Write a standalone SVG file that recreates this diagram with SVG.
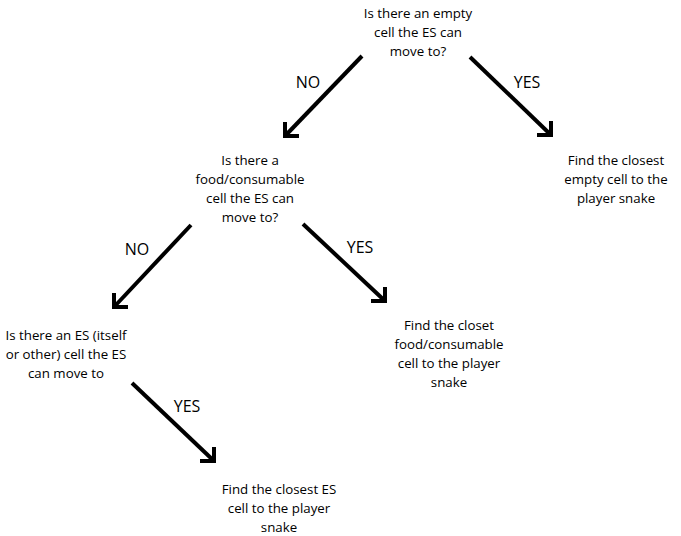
<svg xmlns="http://www.w3.org/2000/svg" width="681" height="536" viewBox="0 0 681 536">
<style>
text{font-family:"Open Sans","Liberation Sans",sans-serif;fill:#000}
.t{font-size:13.3px;text-anchor:middle}
.l{font-size:16px;text-anchor:middle}
.c line,.c polyline{stroke:#000;stroke-width:4;fill:none;stroke-linecap:butt;stroke-linejoin:miter}
</style>
<rect width="681" height="536" fill="#fff"/>
<g id="q1" class="t"><text class="t" x="418" y="18">Is there an empty</text><text class="t" x="418" y="37">cell the ES can</text><text class="t" x="418" y="56">move to?</text></g>
<g id="a1" ><text class="t" x="616" y="165">Find the closest</text><text class="t" x="616" y="184">empty cell to the</text><text class="t" x="616" y="203">player snake</text></g>
<g id="q2"><text class="t" x="250" y="165">Is there a</text><text class="t" x="250" y="184">food/consumable</text><text class="t" x="250" y="203">cell the ES can</text><text class="t" x="250" y="222">move to?</text></g>
<g id="a2"><text class="t" x="449" y="330">Find the closet</text><text class="t" x="449" y="349">food/consumable</text><text class="t" x="449" y="368">cell to the player</text><text class="t" x="449" y="387">snake</text></g>
<g id="q3"><text class="t" x="66" y="340">Is there an ES (itself</text><text class="t" x="66" y="359">or other) cell the ES</text><text class="t" x="66" y="378">can move to</text></g>
<g id="a3"><text class="t" x="279" y="494">Find the closest ES</text><text class="t" x="279" y="513">cell to the player</text><text class="t" x="279" y="532">snake</text></g>
<g id="connectors" class="c">
<line x1="362" y1="56" x2="285" y2="136"/><polyline points="285,122 285,136 299,136"/>
<line x1="470" y1="57" x2="551" y2="135"/><polyline points="551,121 551,135 537,135"/>
<line x1="191" y1="225" x2="114" y2="307"/><polyline points="114,293 114,307 128,307"/>
<line x1="303" y1="224" x2="385" y2="301"/><polyline points="385,287 385,301 371,301"/>
<line x1="132" y1="383" x2="214" y2="461"/><polyline points="214,447 214,461 200,461"/>
<text class="l" x="308" y="88">NO</text>
<text class="l" x="527" y="88">YES</text>
<text class="l" x="137" y="255">NO</text>
<text class="l" x="360" y="253">YES</text>
<text class="l" x="187" y="412">YES</text>
</g>
</svg>
